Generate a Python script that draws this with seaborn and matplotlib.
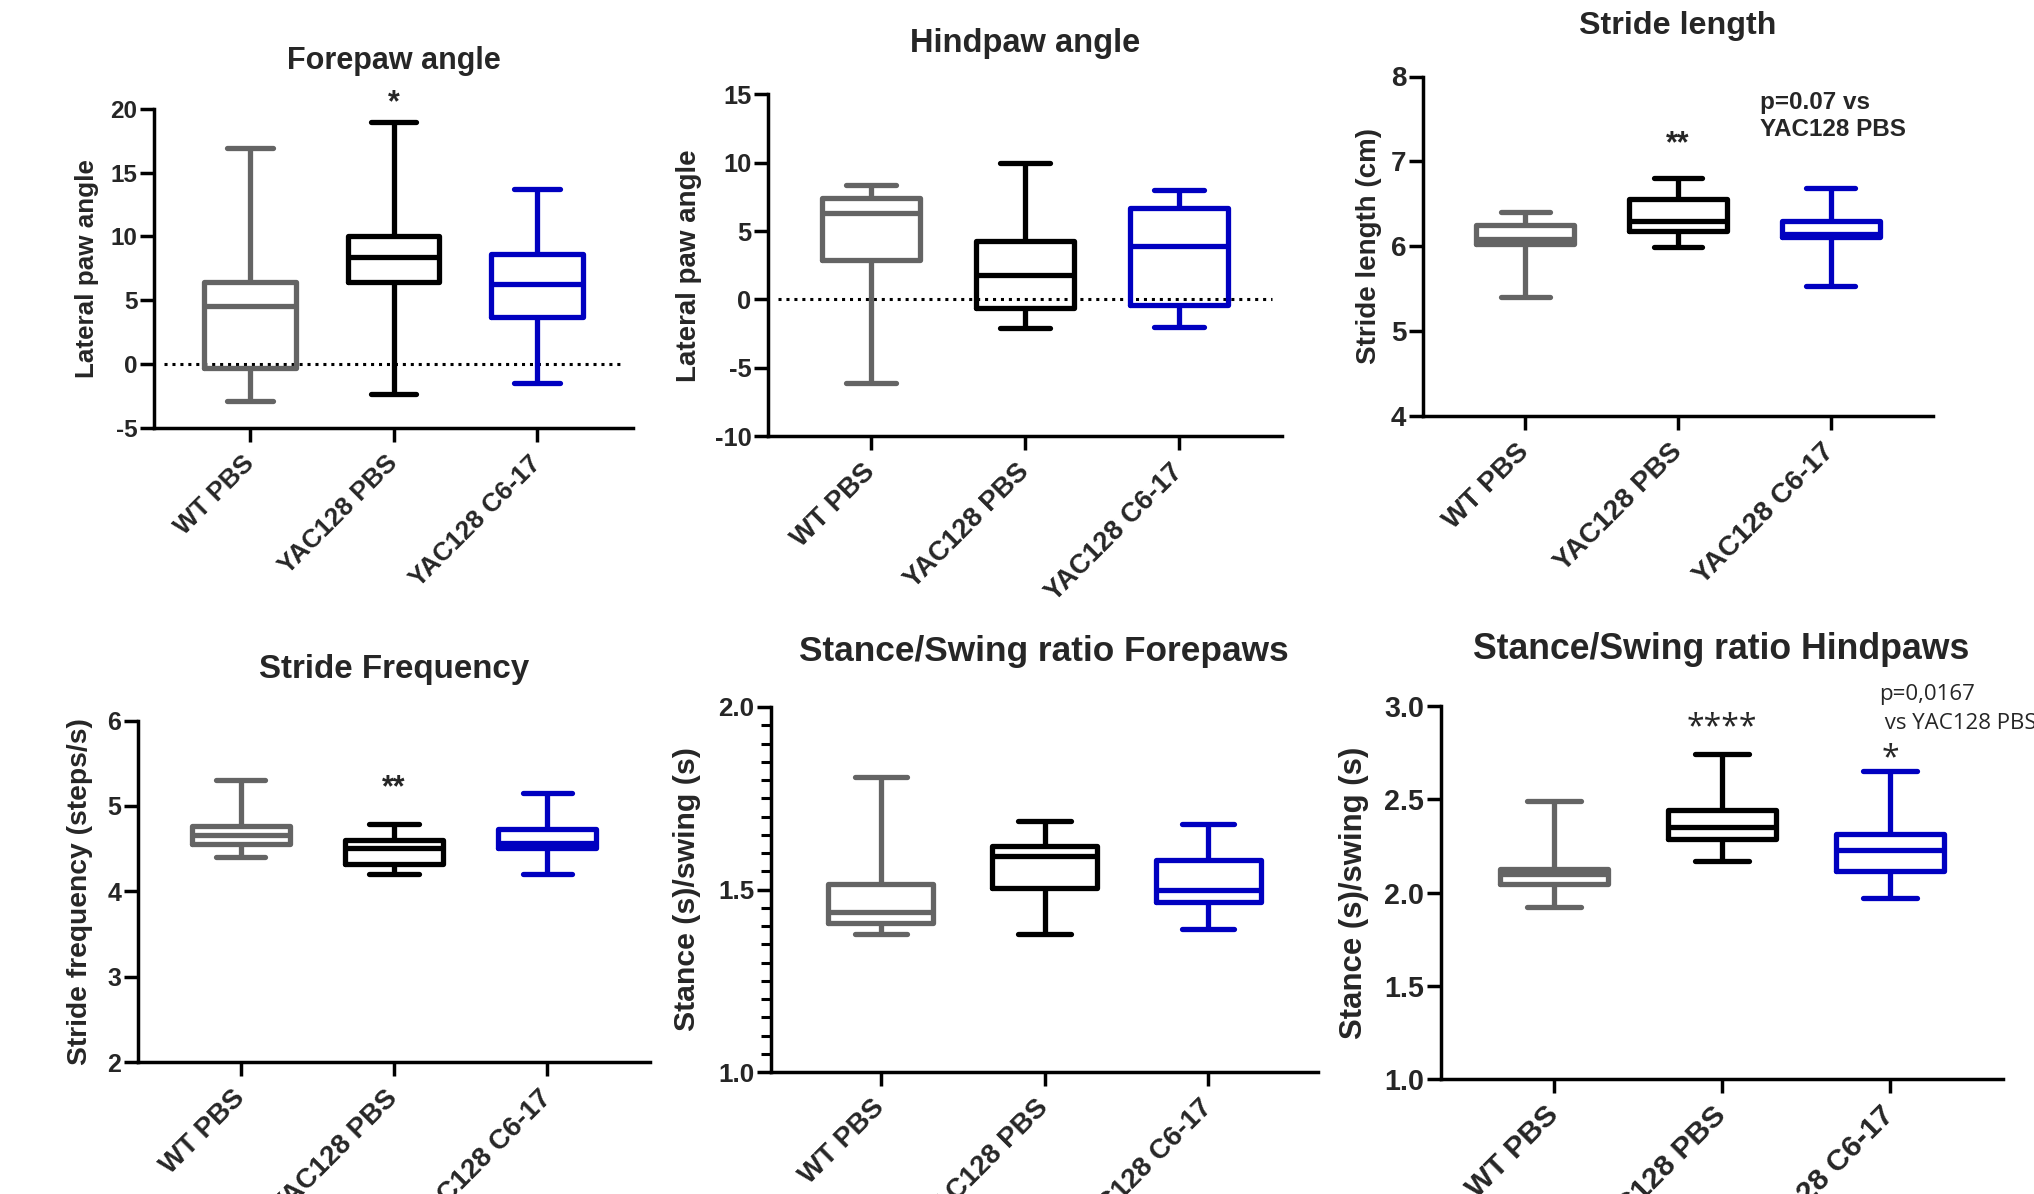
"""
Gait analysis panels (YAC128): box plots min-max, six panels
"""
import matplotlib
matplotlib.use('Agg')
import matplotlib.pyplot as plt
from matplotlib.ticker import MultipleLocator, FormatStrFormatter
import seaborn as sns
import pandas as pd

sns.set_style("ticks")
plt.rcParams['font.family'] = ['Liberation Sans', 'DejaVu Sans']
plt.rcParams['font.weight'] = 'bold'
plt.rcParams['axes.labelweight'] = 'bold'
plt.rcParams['axes.unicode_minus'] = False

W, H = 2034, 1194

groups = ['WT PBS', 'YAC128 PBS', 'YAC128 C6-17']
colors = ['#646464', '#000000', '#0000C0']

# five-number summaries per group: min, Q1, median, Q3, max
forepaw_angle = [[-2.9, -0.3, 4.5, 6.4, 16.9],
                 [-2.4, 6.4, 8.4, 10.0, 19.0],
                 [-1.5, 3.7, 6.3, 8.6, 13.7]]
hindpaw_angle = [[-6.1, 2.9, 6.3, 7.4, 8.4],
                 [-2.1, -0.6, 1.8, 4.3, 10.0],
                 [-2.0, -0.4, 3.9, 6.7, 8.0]]
stride_length = [[5.40, 6.03, 6.09, 6.25, 6.40],
                 [5.99, 6.18, 6.30, 6.56, 6.80],
                 [5.53, 6.11, 6.14, 6.30, 6.69]]
stride_freq = [[4.40, 4.55, 4.66, 4.76, 5.30],
               [4.20, 4.32, 4.51, 4.60, 4.79],
               [4.20, 4.51, 4.57, 4.73, 5.15]]
ratio_fore = [[1.379, 1.408, 1.437, 1.515, 1.809],
              [1.379, 1.504, 1.591, 1.618, 1.689],
              [1.392, 1.466, 1.499, 1.582, 1.679]]
ratio_hind = [[1.920, 2.046, 2.100, 2.125, 2.488],
              [2.167, 2.285, 2.350, 2.442, 2.742],
              [1.970, 2.117, 2.228, 2.314, 2.649]]

fig = plt.figure(figsize=(W / 100, H / 100), dpi=100)


def px_rect(l, t, r, b):
    return [l / W, 1 - b / H, (r - l) / W, (b - t) / H]


def draw_panel(values, rect, ylim, step, title, title_xy, ylabel, ylabel_x,
               fs, zero_line=False, minor=None, fmt=None):
    ax = fig.add_axes(px_rect(*rect))
    df = pd.DataFrame({
        'group': [g for g in groups for _ in range(5)],
        'value': [v for vals in values for v in vals],
    })
    sns.boxplot(data=df, x='group', y='value', hue='group', order=groups,
                hue_order=groups, palette=colors, fill=False, whis=(0, 100),
                width=0.64, linewidth=3.8, legend=False, ax=ax)
    ax.set_xlim(-0.67, 2.67)
    ax.set_ylim(*ylim)
    ax.yaxis.set_major_locator(MultipleLocator(step))
    if minor:
        ax.yaxis.set_minor_locator(MultipleLocator(minor))
        ax.tick_params(axis='y', which='minor', length=7.5, width=2.2, color='black')
    if fmt:
        ax.yaxis.set_major_formatter(FormatStrFormatter(fmt))
    sns.despine(ax=ax)
    for side in ['left', 'bottom']:
        ax.spines[side].set_linewidth(2.5)
        ax.spines[side].set_color('black')
    ax.tick_params(axis='both', which='major', direction='out', length=10,
                   width=2.5, color='black')
    ax.tick_params(axis='y', labelsize=fs[2], pad=2)
    ax.tick_params(axis='x', pad=13)
    ax.set_xticks(range(3))
    ax.set_xticklabels(groups, rotation=45, ha='right', va='center',
                       rotation_mode='anchor', fontsize=fs[3], fontweight='bold')
    ax.set_xlabel('')
    ax.set_ylabel(ylabel, fontsize=fs[1], va='center')
    l, t, r, b = rect
    ax.yaxis.set_label_coords((ylabel_x - l) / (r - l), 0.5)
    if zero_line:
        ax.axhline(0, xmin=0.02, xmax=0.98, color='black', lw=2.2,
                   ls=(0, (1, 1.6)), zorder=0.5)
    fig.text(title_xy[0] / W, 1 - title_xy[1] / H, title, ha='center',
             va='baseline', fontsize=fs[0], fontweight='bold')
    return ax


ax1 = draw_panel(forepaw_angle, (154, 109, 633, 427.5), (-5, 20), 5,
                 'Forepaw angle', (394, 68.9), 'Lateral paw angle', 87,
                 (22, 18.7, 17.5, 18.7), zero_line=True)
ax1.text(1, 19.85, '*', ha='center', va='baseline', fontsize=22, clip_on=False)

ax2 = draw_panel(hindpaw_angle, (768, 94.5, 1282, 436), (-10, 15), 5,
                 'Hindpaw angle', (1025.6, 51.7), 'Lateral paw angle', 688.6,
                 (23.5, 20, 18.3, 19.6), zero_line=True)

ax3 = draw_panel(stride_length, (1423, 76.5, 1933, 416), (4, 8), 1,
                 'Stride length', (1677.5, 34.4), 'Stride length (cm)', 1368.8,
                 (23.2, 20, 20, 20.2))
ax3.text(1, 7.11, '**', ha='center', va='baseline', fontsize=22, clip_on=False)
ax3.text(1.54, 7.30, 'p=0.07 vs\nYAC128 PBS', ha='left', va='baseline',
         fontsize=17.5, linespacing=1.22, clip_on=False)

ax4 = draw_panel(stride_freq, (138, 720.5, 650, 1062), (2, 6), 1,
                 'Stride Frequency', (393.6, 677.7), 'Stride frequency (steps/s)', 80.2,
                 (23.9, 20.3, 18, 19.9))
ax4.text(1, 5.11, '**', ha='center', va='baseline', fontsize=22, clip_on=False)

ax5 = draw_panel(ratio_fore, (771, 707, 1318, 1072), (1, 2), 0.5,
                 'Stance/Swing ratio Forepaws', (1043.4, 660.6), 'Stance (s)/swing (s)', 687,
                 (25.4, 21.8, 18.7, 20), minor=0.05, fmt='%.1f')

ax6 = draw_panel(ratio_hind, (1441, 706, 2003, 1079), (1, 3), 0.5,
                 'Stance/Swing ratio Hindpaws', (1721.3, 658.7), 'Stance (s)/swing (s)', 1354,
                 (25.7, 22.4, 20.6, 21.7), fmt='%.1f')
ax6.text(1, 2.835, '****', ha='center', va='baseline', fontsize=23,
         fontweight='normal', family=['Open Sans', 'DejaVu Sans'], clip_on=False)
ax6.text(2, 2.67, '*', ha='center', va='baseline', fontsize=23,
         fontweight='normal', family=['Open Sans', 'DejaVu Sans'], clip_on=False)
ax6.text(1.935, 2.878, 'p=0,0167\n vs YAC128 PBS', ha='left', va='baseline',
         fontsize=16, fontweight='normal', family=['Open Sans', 'DejaVu Sans'],
         linespacing=1.5, clip_on=False)

fig.savefig('out.png', dpi=100)
